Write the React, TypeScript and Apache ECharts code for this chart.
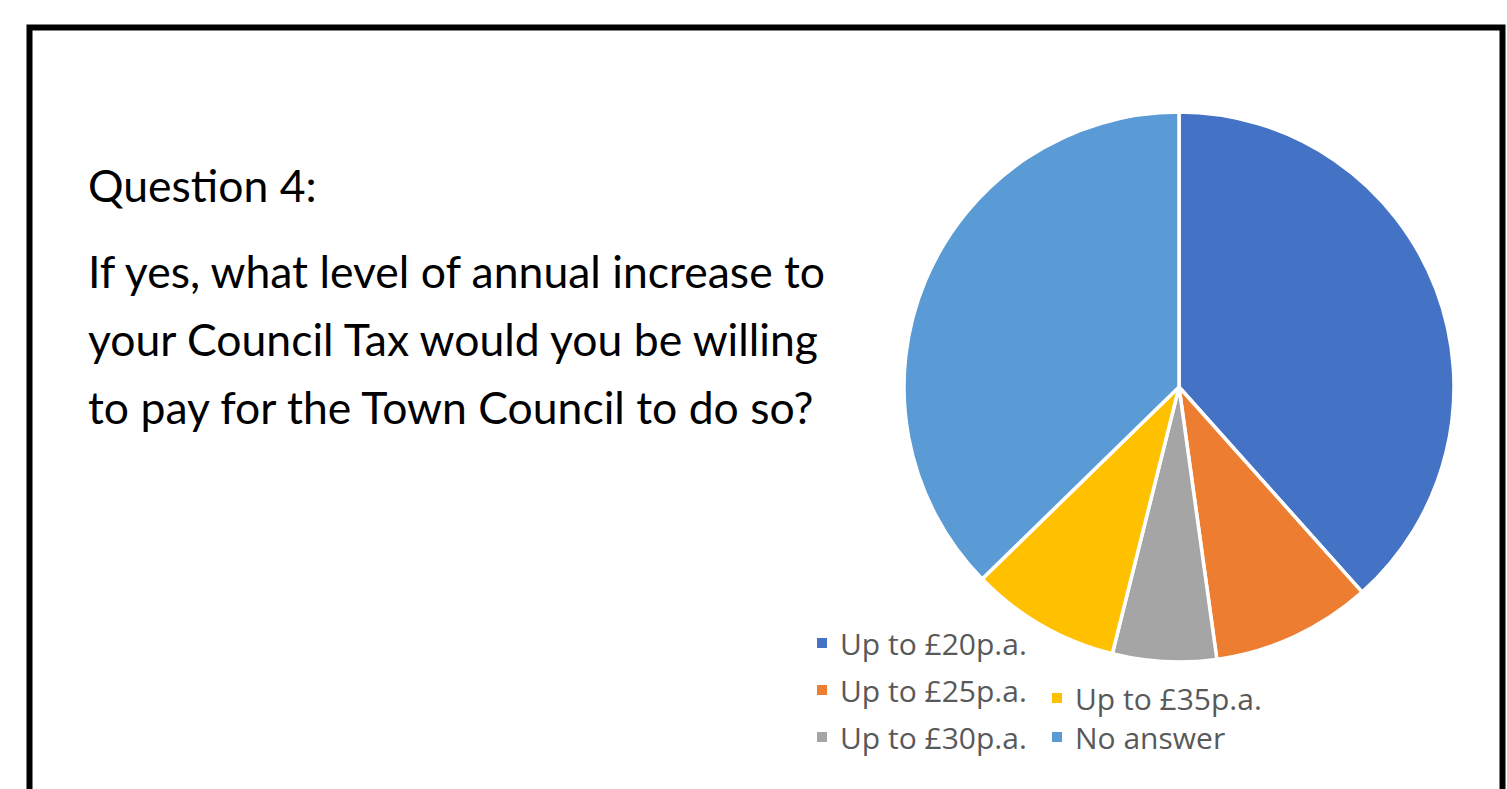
import React, { useEffect, useRef } from "react";
import * as echarts from "echarts";

const categories = ["Up to £20p.a.", "Up to £25p.a.", "Up to £30p.a.", "Up to £35p.a.", "No answer"];
const values = [38.4, 9.4, 6.1, 8.8, 37.3];
const colors = ["#4472C4", "#ED7D31", "#A5A5A5", "#FFC000", "#5B9BD5"];
const questionTitle = "Question 4:";
const questionLines = [
  "If yes, what level of annual increase to",
  "your Council Tax would you be willing",
  "to pay for the Town Council to do so?",
];
// legend placement: [left, centre y]
const legendPlaces: [number, number][] = [
  [815, 643],
  [815, 690],
  [815, 737],
  [1050, 698],
  [1050, 737],
];

export default function App() {
  const ref = useRef<HTMLDivElement>(null);
  useEffect(() => {
    document.body.style.margin = "0";
    const chart = echarts.init(ref.current!, undefined, { renderer: "svg" });
    const textFont = "Lato";
    const textSize = 44.5;
    const lineYs = [184, 270, 338, 406];
    chart.setOption({
      animation: false,
      backgroundColor: "#ffffff",
      color: colors,
      legend: categories.map((name, i) => ({
        data: [name],
        left: legendPlaces[i][0],
        top: legendPlaces[i][1] - 16,
        padding: 0,
        orient: "horizontal",
        icon: "rect",
        itemWidth: 12,
        itemHeight: 12,
        selectedMode: false,
        textStyle: {
          fontFamily: "Open Sans",
          fontSize: 30,
          color: "#595959",
          lineHeight: 32,
          padding: [0, 0, 0, 7],
        },
      })),
      graphic: [
        {
          type: "rect",
          shape: { x: 29.5, y: 27.5, width: 1473, height: 800 },
          style: { fill: "none", stroke: "#000000", lineWidth: 6 },
          silent: true,
        },
        {
          type: "text",
          x: 88,
          y: lineYs[0],
          style: {
            text: questionTitle,
            fontFamily: textFont,
            fontSize: textSize,
            fill: "#000000",
            verticalAlign: "middle",
          },
        },
        ...questionLines.map((t, i) => ({
          type: "text",
          x: 88,
          y: lineYs[i + 1],
          style: {
            text: t,
            fontFamily: textFont,
            fontSize: textSize,
            fill: "#000000",
            verticalAlign: "middle",
          },
        })),
      ],
      series: [
        {
          type: "pie",
          center: [1179, 387],
          radius: 275,
          startAngle: 90,
          clockwise: true,
          label: { show: false },
          labelLine: { show: false },
          emphasis: { disabled: true },
          itemStyle: { borderColor: "#ffffff", borderWidth: 3.5 },
          data: categories.map((name, i) => ({ name, value: values[i] })),
        },
      ],
    });
    return () => chart.dispose();
  }, []);
  return <div ref={ref} style={{ width: 1507, height: 789 }} />;
}
